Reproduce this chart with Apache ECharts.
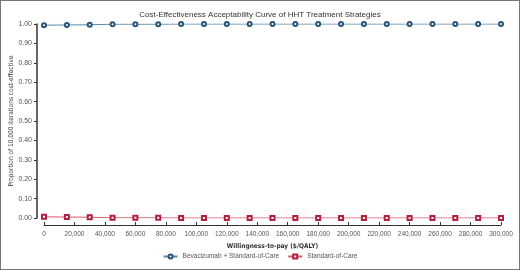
<!DOCTYPE html>
<html>
<head>
<meta charset="utf-8">
<script src="https://cdn.jsdelivr.net/npm/echarts@6/dist/echarts.min.js"></script>
<style>
  html, body { margin: 0; padding: 0; background: #fff; }
  #chart { width: 520px; height: 270px; box-sizing: border-box; border: 1px solid #777; }
</style>
</head>
<body>
<div id="chart"></div>
<script>
// willingness-to-pay steps ($/QALY)
const wtp = [0, 15000, 30000, 45000, 60000, 75000, 90000, 105000, 120000, 135000, 150000,
             165000, 180000, 195000, 210000, 225000, 240000, 255000, 270000, 285000, 300000];
const bevacizumab = [0.994, 0.995, 0.996, 0.999, 0.999, 0.999, 1, 1, 1, 1, 1,
                     1, 1, 1, 1, 1, 1, 1, 1, 1, 1];
const standardCare = [0.006, 0.005, 0.004, 0.001, 0.001, 0.001, 0, 0, 0, 0, 0,
                      0, 0, 0, 0, 0, 0, 0, 0, 0, 0];
const seriesNames = ['Bevacizumab + Standard-of-Care', 'Standard-of-Care'];

const chart = echarts.init(document.getElementById('chart'));
const font = 'Liberation Sans, Arial, sans-serif';
const narrow = 'DejaVu Sans Condensed, Liberation Sans, sans-serif';

chart.setOption({
  animation: false,
  title: {
    text: 'Cost-Effectiveness Acceptability Curve of HHT Treatment Strategies',
    left: 'center',
    top: 5,
    textStyle: { fontFamily: font, fontSize: 8, fontWeight: 'normal', color: '#333' }
  },
  legend: {
    bottom: 4,
    left: 'center',
    itemWidth: 14,
    itemHeight: 5,
    itemGap: 8,
    textStyle: { fontFamily: font, fontSize: 6.5, color: '#555' },
    data: seriesNames
  },
  grid: { left: 43, right: 18, top: 23, bottom: 51, outerBoundsMode: 'none', containLabel: false },
  xAxis: {
    type: 'value',
    min: 0,
    max: 300000,
    interval: 20000,
    offset: 7,
    name: 'Willingness-to-pay ($/QALY)',
    nameLocation: 'middle',
    nameGap: 18,
    nameTextStyle: { fontFamily: narrow, fontSize: 6.5, color: '#333', fontWeight: 'bold' },
    axisLine: { show: true, onZero: false, lineStyle: { color: '#333', width: 1 } },
    axisTick: { show: true, inside: true, length: 3, lineStyle: { color: '#333' } },
    axisLabel: {
      fontFamily: font, fontSize: 6.5, color: '#555', margin: 6,
      formatter: v => v.toLocaleString('en-US')
    },
    splitLine: { show: false }
  },
  yAxis: {
    type: 'value',
    min: 0,
    max: 1,
    interval: 0.1,
    offset: 7,
    name: 'Proportion of 10,000 iterations cost-effective',
    nameLocation: 'middle',
    nameGap: 22,
    nameMoveOverlap: false,
    nameTextStyle: { fontFamily: narrow, fontSize: 6.5, color: '#333' },
    axisLine: { show: true, onZero: false, lineStyle: { color: '#333', width: 1.5 } },
    axisTick: { show: true, length: 3, lineStyle: { color: '#333' } },
    axisLabel: {
      fontFamily: font, fontSize: 7, color: '#555', margin: 5,
      formatter: v => v.toFixed(2)
    },
    splitLine: { show: false }
  },
  series: [
    {
      name: seriesNames[0],
      type: 'line',
      data: wtp.map((x, i) => [x, bevacizumab[i]]),
      symbol: 'emptyCircle',
      symbolSize: 4,
      lineStyle: { color: '#5a86ab', width: 1 },
      itemStyle: { color: '#2a5478', borderColor: '#2a5478', borderWidth: 1 }
    },
    {
      name: seriesNames[1],
      type: 'line',
      data: wtp.map((x, i) => [x, standardCare[i]]),
      symbol: 'emptyRect',
      symbolSize: 4,
      lineStyle: { color: '#d55a70', width: 1 },
      itemStyle: { color: '#b0203c', borderColor: '#b0203c', borderWidth: 1 }
    }
  ]
});
</script>
</body>
</html>
